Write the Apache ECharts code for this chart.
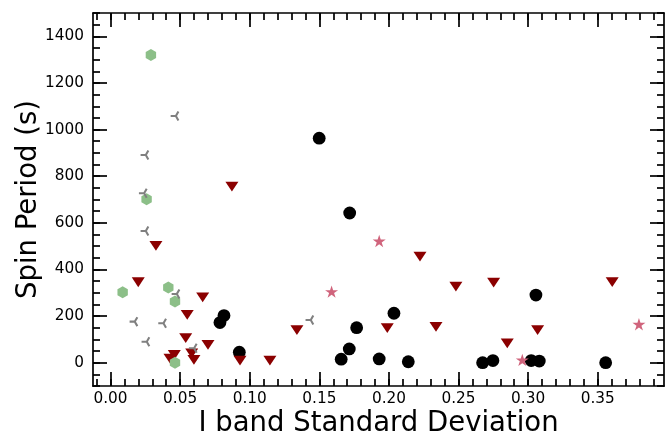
<!DOCTYPE html>
<html><head><meta charset="utf-8">
<script src="https://cdn.jsdelivr.net/npm/echarts@6/dist/echarts.min.js"></script>
<style>html,body{margin:0;padding:0;background:#fff}#c{width:666px;height:439px}</style>
</head><body><div id="c"></div>
<script>
// ---- data ----
const blackX = [0.1499,0.1718,0.1768,0.1715,0.1657,0.2036,0.1930,0.2139,0.2673,0.2747,0.3056,0.3022,0.3080,0.3557,0.0786,0.0815,0.0925];
const blackY = [963,642,150,59,15,212,16,4,0,9,290,9,7,0,172,202,45];

const redX = [0.0872,0.0662,0.0700,0.0930,0.1145,0.1339,0.1988,0.2223,0.2481,0.2752,0.2338,0.2850,0.3068,0.3604,0.0551,0.0540,0.0458,0.0427,0.0583,0.0599,0.0199,0.0326];
const redY = [755,280,76,9,9,140,148,455,326,343,154,83,140,346,205,105,33,17,40,12,345,501];

const starX = [0.1588,0.1930,0.2958,0.3796];
const starY = [305,522,12,165];

const greenX = [0.0290,0.0259,0.0087,0.0415,0.0463,0.0463];
const greenY = [1320,701,302,322,262,0];

const grayX = [0.0463,0.0247,0.0235,0.0247,0.0470,0.0374,0.0594,0.0168,0.0254,0.1432];
const grayY = [1058,891,727,565,295,169,62,176,90,183];

const xMajorTicks = [0,0.05,0.10,0.15,0.20,0.25,0.30,0.35];
const yMajorTicks = [0,200,400,600,800,1000,1200,1400];
const xTitle = 'I band Standard Deviation';
const yTitle = 'Spin Period (s)';

// ---- layout ----
const X_MIN = -0.0126, X_MAX = 0.3976, Y_MIN = -100, Y_MAX = 1500;
const xMinorTicks = []; for (let i = -1; i <= 39; i++) xMinorTicks.push(+(i*0.01).toFixed(2));
const yMinorTicks = []; for (let v = -100; v <= 1500; v += 50) yMinorTicks.push(v);

const FONT = 'DejaVu Sans';
const gridRect = {left:93, right:2, top:13, bottom:53};
const lineW = 1.7;

function xAx(gi, pos, ticks, len, opts) {
  return Object.assign({
    type:'value', gridIndex:gi, position:pos, min:X_MIN, max:X_MAX,
    axisLine:{show:false, onZero:false, lineStyle:{color:'#000', width:lineW}},
    axisTick:{show:true, inside:true, length:len, customValues:ticks, lineStyle:{color:'#000', width:lineW}},
    axisLabel:{show:false},
    splitLine:{show:false}
  }, opts||{});
}
function yAx(gi, pos, ticks, len, opts) {
  return Object.assign({
    type:'value', gridIndex:gi, position:pos, min:Y_MIN, max:Y_MAX,
    axisLine:{show:false, onZero:false, lineStyle:{color:'#000', width:lineW}},
    axisTick:{show:true, inside:true, length:len, customValues:ticks, lineStyle:{color:'#000', width:lineW}},
    axisLabel:{show:false},
    splitLine:{show:false}
  }, opts||{});
}
const frameLine = {show:true, onZero:false, lineStyle:{color:'#000', width:lineW}};

const xAxes = [
  xAx(0,'bottom',xMajorTicks,14,{
    axisLine:frameLine,
    axisLabel:{show:true, customValues:xMajorTicks, formatter:v=>(+v).toFixed(2), margin:6, color:'#000', fontFamily:FONT, fontSize:15.3},
    name:xTitle, nameLocation:'middle', nameGap:24, nameMoveOverlap:false,
    nameTextStyle:{color:'#000', fontFamily:FONT, fontSize:27.5, verticalAlign:'top'}
  }),
  xAx(0,'top',xMajorTicks,14,{axisLine:frameLine}),
  xAx(1,'bottom',xMinorTicks,7),
  xAx(1,'top',xMinorTicks,7)
];
const yAxes = [
  yAx(0,'left',yMajorTicks,14,{
    axisLine:frameLine,
    axisLabel:{show:true, customValues:yMajorTicks, formatter:v=>String(Math.round(v)), margin:9, color:'#000', fontFamily:FONT, fontSize:15.3},
    name:yTitle, nameLocation:'middle', nameGap:50, nameMoveOverlap:false,
    nameTextStyle:{color:'#000', fontFamily:FONT, fontSize:27.5}
  }),
  yAx(0,'right',yMajorTicks,14,{axisLine:frameLine}),
  yAx(1,'left',yMinorTicks,7),
  yAx(1,'right',yMinorTicks,7)
];

const zip = (xs, ys) => xs.map((x,i)=>[x, ys[i]]);

const triDown = 'path://M0,0L100,0L50,86.6Z';
const hexagon = 'path://M50,0L93.3,25L93.3,75L50,100L6.7,75L6.7,25Z';
const star = 'path://M50,0L61.23,34.55L97.55,34.55L68.16,55.9L79.39,90.45L50,69.1L20.61,90.45L31.84,55.9L2.45,34.55L38.77,34.55Z';
const triLeft = 'path://M55,40L0,40L0,60L55,60Z M56.16,59.33L83.66,11.7L66.34,1.7L38.84,49.33Z M38.84,50.67L66.34,98.3L83.66,88.3L56.16,40.67Z';

const base = {type:'scatter', xAxisIndex:0, yAxisIndex:0, symbolKeepAspect:true, emphasis:{disabled:true}, silent:true};
const series = [
  Object.assign({}, base, {name:'black', data:zip(blackX,blackY), symbol:'circle', symbolSize:12.8, itemStyle:{color:'#000', opacity:1}, z:2}),
  Object.assign({}, base, {name:'red', data:zip(redX,redY), symbol:triDown, symbolSize:[13,11.3], itemStyle:{color:'#8B0000', opacity:1}, z:3}),
  Object.assign({}, base, {name:'star', data:zip(starX,starY), symbol:star, symbolSize:13, itemStyle:{color:'#D0647C', opacity:1}, z:4}),
  Object.assign({}, base, {name:'green', data:zip(greenX,greenY), symbol:hexagon, symbolSize:12, itemStyle:{color:'#8CBF88', opacity:1}, z:5}),
  Object.assign({}, base, {name:'gray', data:zip(grayX,grayY), symbol:triLeft, symbolSize:10, itemStyle:{color:'#808080', opacity:1}, z:6})
];

const chart = echarts.init(document.getElementById('c'), null, {renderer:'canvas'});
chart.setOption({
  animation:false,
  backgroundColor:'#fff',
  grid:[Object.assign({containLabel:false, outerBoundsMode:'none'}, gridRect), Object.assign({containLabel:false, outerBoundsMode:'none'}, gridRect)],
  xAxis:xAxes,
  yAxis:yAxes,
  series:series
});
</script></body></html>
